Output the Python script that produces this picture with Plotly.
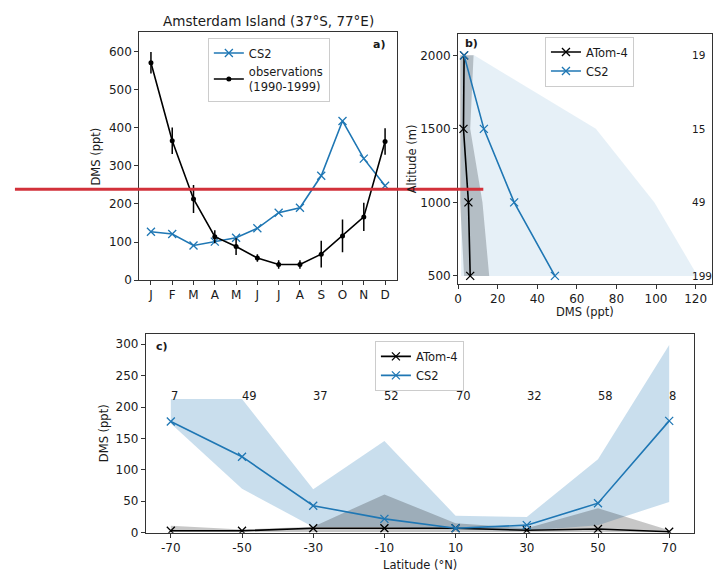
import plotly.graph_objects as go

W, H = 714, 580

# ---------------- data ----------------
months = ['J', 'F', 'M', 'A', 'M', 'J', 'J', 'A', 'S', 'O', 'N', 'D']
month_idx = list(range(1, 13))
cs2_month = [127, 121, 91, 101, 111, 136, 177, 190, 274, 418, 319, 248]
obs_month = [571, 366, 213, 114, 88, 58, 41, 41, 68, 116, 166, 364]
obs_err = [28, 35, 37, 17, 22, 10, 11, 11, 35, 43, 37, 35]

altitudes = [500, 1000, 1500, 2000]
atom_alt = [6.1, 5.2, 2.7, 3.0]
atom_alt_lo = [3.0, 1.0, 1.0, 1.0]
atom_alt_hi = [15.7, 12.3, 6.1, 7.8]
cs2_alt = [48.9, 28.3, 13.0, 3.0]
cs2_alt_lo = [1.5, 1.5, 1.5, 1.5]
cs2_alt_hi = [121.0, 99.2, 69.6, 8.1]
alt_counts = ['199', '49', '15', '19']

lats = [-70, -50, -30, -10, 10, 30, 50, 70]
lat_labels = ['-70', '-50', '-30', '-10', '10', '30', '50', '70']
atom_lat = [3, 3, 7, 7, 7, 4, 6, 1.6]
atom_lat_lo = [1, 1, 1, 1, 1, 1, 1, 0.5]
atom_lat_hi = [11, 5, 9.5, 61, 15, 7, 39, 4]
cs2_lat = [177, 121, 43, 22, 7, 12, 47, 178]
cs2_lat_lo = [174, 70, 9, 9, 5, 3, 12, 49]
cs2_lat_hi = [213, 213, 69, 146, 27, 25, 117, 299]
lat_counts = ['7', '49', '37', '52', '70', '32', '58', '8']

# ---------------- style ----------------
BLUE = '#1f77b4'
FONT = 'DejaVu Sans'
TXT = '#1a1a1a'
TICK_SIZE = 12
LABEL_SIZE = 11.5


def px(x):
    return x / W


def py(y):
    return 1 - y / H


def xmarker(color):
    return dict(symbol='x-thin', size=8, color=color, line=dict(color=color, width=1.3))


fig = go.Figure()

# ---- panel a ----
fig.add_trace(go.Scatter(x=month_idx, y=cs2_month, mode='lines+markers', name='CS2',
                         line=dict(color=BLUE, width=1.6), marker=xmarker(BLUE),
                         xaxis='x', yaxis='y', legend='legend'))
fig.add_trace(go.Scatter(x=month_idx, y=obs_month, mode='lines+markers',
                         name='observations<br>(1990-1999)',
                         line=dict(color='black', width=1.6),
                         marker=dict(color='black', size=5, symbol='circle'),
                         error_y=dict(type='data', array=obs_err, color='black', thickness=1.5, width=0),
                         xaxis='x', yaxis='y', legend='legend'))

# ---- panel b ----
fig.add_trace(go.Scatter(x=atom_alt_lo + atom_alt_hi[::-1], y=altitudes + altitudes[::-1],
                         fill='toself', fillcolor='rgba(0,0,0,0.22)', mode='none',
                         showlegend=False, hoverinfo='skip', xaxis='x2', yaxis='y2'))
fig.add_trace(go.Scatter(x=cs2_alt_lo + cs2_alt_hi[::-1], y=altitudes + altitudes[::-1],
                         fill='toself', fillcolor='rgba(31,119,180,0.11)', mode='none',
                         showlegend=False, hoverinfo='skip', xaxis='x2', yaxis='y2'))
fig.add_trace(go.Scatter(x=atom_alt, y=altitudes, mode='lines+markers', name='ATom-4',
                         line=dict(color='black', width=1.6), marker=xmarker('black'),
                         xaxis='x2', yaxis='y2', legend='legend2'))
fig.add_trace(go.Scatter(x=cs2_alt, y=altitudes, mode='lines+markers', name='CS2',
                         line=dict(color=BLUE, width=1.6), marker=xmarker(BLUE),
                         xaxis='x2', yaxis='y2', legend='legend2'))

# ---- panel c ----
fig.add_trace(go.Scatter(x=lats + lats[::-1], y=cs2_lat_lo + cs2_lat_hi[::-1], fill='toself',
                         fillcolor='rgba(31,119,180,0.24)', mode='none',
                         showlegend=False, hoverinfo='skip', xaxis='x3', yaxis='y3'))
fig.add_trace(go.Scatter(x=lats + lats[::-1], y=atom_lat_lo + atom_lat_hi[::-1], fill='toself',
                         fillcolor='rgba(0,0,0,0.22)', mode='none',
                         showlegend=False, hoverinfo='skip', xaxis='x3', yaxis='y3'))
fig.add_trace(go.Scatter(x=lats, y=atom_lat, mode='lines+markers', name='ATom-4',
                         line=dict(color='black', width=1.6), marker=xmarker('black'),
                         xaxis='x3', yaxis='y3', legend='legend3'))
fig.add_trace(go.Scatter(x=lats, y=cs2_lat, mode='lines+markers', name='CS2',
                         line=dict(color=BLUE, width=1.6), marker=xmarker(BLUE),
                         xaxis='x3', yaxis='y3', legend='legend3'))

# ---------------- axes ----------------
axis_common = dict(showgrid=False, zeroline=False, showline=True, mirror=True,
                   linecolor='#333333', linewidth=1, ticks='outside', ticklen=4,
                   tickwidth=1, tickcolor='#333333',
                   tickfont=dict(family=FONT, size=TICK_SIZE, color=TXT))

fig.update_layout(
    xaxis=dict(domain=[px(136), px(395)], range=[0.45, 12.55], tickvals=month_idx, ticktext=months,
               anchor='y', **axis_common),
    yaxis=dict(domain=[py(283.5), py(32.3)], range=[0, 652], tickvals=[0, 100, 200, 300, 400, 500, 600],
               anchor='x', **axis_common),
    xaxis2=dict(domain=[px(456.7), px(712)], range=[0, 128.3], tickvals=[0, 20, 40, 60, 80, 100, 120],
                anchor='y2', **axis_common),
    yaxis2=dict(domain=[py(287.3), py(34)], range=[446, 2148], tickvals=[500, 1000, 1500, 2000],
                anchor='x2', **axis_common),
    xaxis3=dict(domain=[px(142.7), px(694)], range=[-77, 77], tickvals=lats, ticktext=lat_labels,
                anchor='y3', **axis_common),
    yaxis3=dict(domain=[py(539.2), py(338.3)], range=[0, 316], tickvals=[0, 50, 100, 150, 200, 250, 300],
                anchor='x3', **axis_common),
)

legend_common = dict(bgcolor='rgba(255,255,255,0.85)', bordercolor='#cccccc', borderwidth=1,
                     font=dict(family=FONT, size=LABEL_SIZE, color=TXT), xanchor='left', yanchor='top',
                     tracegroupgap=0, itemwidth=30)
fig.update_layout(
    legend=dict(x=px(205), y=py(38), **legend_common),
    legend2=dict(x=px(544), y=py(37), **legend_common),
    legend3=dict(x=px(373), y=py(345), **legend_common),
)


def note(text, x, y, size=LABEL_SIZE, angle=0, xanchor='center'):
    return dict(text=text, x=px(x), y=py(y), xref='paper', yref='paper', showarrow=False,
                textangle=angle, font=dict(family=FONT, size=size, color=TXT),
                xanchor=xanchor, yanchor='middle')


ann = [
    note('Amsterdam Island (37°S, 77°E)', 265.5, 21, size=13.5),
    note('<b>a)</b>', 385, 45, size=11, xanchor='right'),
    note('<b>b)</b>', 462, 44, size=11, xanchor='left'),
    note('<b>c)</b>', 151, 351, size=11, xanchor='left'),
    note('DMS (ppt)', 93, 158, angle=-90),
    note('Altitude (m)', 410, 160.5, angle=-90),
    note('DMS (ppt)', 584, 316),
    note('DMS (ppt)', 100.5, 438.5, angle=-90),
    note('Latitude (°N)', 418, 572),
]
for a, c in zip(altitudes, alt_counts):
    ann.append(dict(text=c, x=117.3, y=a, xref='x2', yref='y2', showarrow=False,
                    font=dict(family=FONT, size=10.5, color=TXT), xanchor='left', yanchor='middle'))
for lat, c in zip(lats, lat_counts):
    ann.append(dict(text=c, x=lat, y=217, xref='x3', yref='y3', showarrow=False,
                    font=dict(family=FONT, size=11.5, color=TXT), xanchor='left', yanchor='middle',
                    xshift=-2))

fig.update_layout(
    annotations=ann,
    shapes=[dict(type='line', xref='paper', yref='paper', x0=px(11), x1=px(482), y0=py(191.5), y1=py(191.5),
                 line=dict(color='#d2313a', width=3), layer='above')],
    width=W, height=H, margin=dict(l=0, r=0, t=0, b=0),
    paper_bgcolor='white', plot_bgcolor='white',
    font=dict(family=FONT, size=LABEL_SIZE, color=TXT),
)

fig.write_html('out.html')
